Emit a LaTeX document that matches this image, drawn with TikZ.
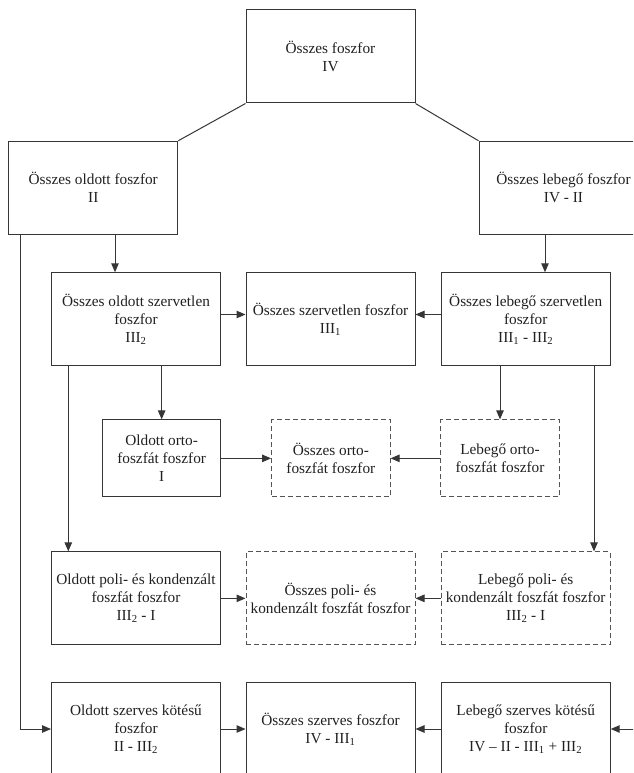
\documentclass[tikz,border=0pt]{standalone}
\usepackage{fontspec}
\setmainfont{Liberation Serif}
\usetikzlibrary{arrows.meta,calc}
\definecolor{ln}{HTML}{363636}
\definecolor{tx}{HTML}{202020}
\begin{document}
\begin{tikzpicture}[x=1pt,y=-1pt,
  box/.style={draw=ln,line width=1pt,rectangle,inner sep=0pt,align=center,text=tx,
    font=\fontsize{15.3}{18}\selectfont,minimum width=169pt,minimum height=93pt},
  small/.style={box,minimum width=118.5pt,minimum height=77pt},
  dbox/.style={dash pattern=on 5pt off 3pt,draw=ln!85},
  conn/.style={draw=ln,line width=1pt},
  arr/.style={conn,-{Triangle[length=9pt,width=7.5pt]}}]
\useasboundingbox (0,0) rectangle (633,773);
\clip (0,0) rectangle (633,773);
% row 0
\node[box] (T) at (330.5,56.5) {Összes foszfor\\IV};
% row 1
\node[box] (L1) at (93.25,187.75) {Összes oldott foszfor\\II};
\node[box] (R1) at (563.5,187.75) {Összes lebegő foszfor\\IV - II};
% row 2
\node[box] (A) at (136,319.25) {Összes oldott szervetlen\\foszfor\\III\textsubscript{2}};
\node[box] (B) at (330.5,319.25) {Összes szervetlen foszfor\\III\textsubscript{1}};
\node[box] (C) at (525.7,319.25) {Összes lebegő szervetlen\\foszfor\\III\textsubscript{1} - III\textsubscript{2}};
% row 3
\node[small] (D) at (161.65,458.35) {Oldott orto-\\foszfát foszfor\\I};
\node[small,dbox] (E) at (330.85,458.35) {Összes orto-\\foszfát foszfor};
\node[small,dbox] (F) at (500,458.35) {Lebegő orto-\\foszfát foszfor};
% row 4
\node[box] (G) at (136,598.35) {Oldott poli- és kondenzált\\foszfát foszfor\\III\textsubscript{2} - I};
\node[box,dbox] (H) at (330.5,598.35) {Összes poli- és\\kondenzált foszfát foszfor};
\node[box,dbox] (I) at (525.7,598.35) {Lebegő poli- és\\kondenzált foszfát foszfor\\III\textsubscript{2} - I};
% row 5
\node[box] (J) at (136,729) {Oldott szerves kötésű\\foszfor\\II - III\textsubscript{2}};
\node[box] (K) at (330.5,729) {Összes szerves foszfor\\IV - III\textsubscript{1}};
\node[box] (L) at (525.7,729) {Lebegő szerves kötésű\\foszfor\\IV -- II - III\textsubscript{1} + III\textsubscript{2}};
\coordinate (rin) at (660,729);
% connectors
\draw[conn] (T.south west) -- (L1.north east);
\draw[conn] (T.south east) -- (R1.north west);
\draw[arr] ([xshift=21.75pt]L1.south) -- ([xshift=21.75pt]L1.south |- A.north);
\draw[arr] ([xshift=-18.5pt]R1.south) -- ([xshift=-18.5pt]R1.south |- C.north);
\draw[arr] ([xshift=-72.5pt]L1.south) |- (J.west);
\draw[arr] ([yshift=4.75pt]A.east) -- ([yshift=4.75pt]A.east -| B.west);
\draw[arr] ([yshift=4.75pt]C.west) -- ([yshift=4.75pt]C.west -| B.east);
\draw[arr] (A.south -| D.north) -- (D.north);
\draw[arr] ([xshift=-67.7pt]A.south) -- ([xshift=-67.7pt]A.south |- G.north);
\draw[arr] (C.south -| F.north) -- (F.north);
\draw[arr] ([xshift=68.3pt]C.south) -- ([xshift=68.3pt]C.south |- I.north);
\draw[arr] (D.east) -- (E.west);
\draw[arr] (F.west) -- (E.east);
\draw[arr] (G.east) -- (H.west);
\draw[arr] (I.west) -- (H.east);
\draw[arr] (J.east) -- (K.west);
\draw[arr] (L.west) -- (K.east);
\draw[arr] (rin) -- (L.east);
\end{tikzpicture}
\end{document}
